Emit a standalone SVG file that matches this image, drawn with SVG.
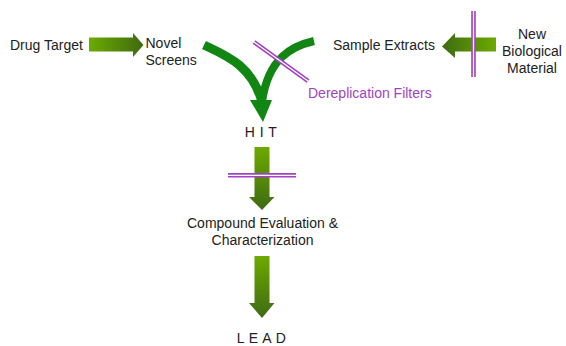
<svg xmlns="http://www.w3.org/2000/svg" width="566" height="346" viewBox="0 0 566 346">
<defs>
<linearGradient id="gR" x1="0" y1="0" x2="1" y2="0"><stop offset="0" stop-color="#6cab00"/><stop offset="1" stop-color="#3e6a12"/></linearGradient>
<linearGradient id="gL" x1="0" y1="0" x2="1" y2="0"><stop offset="0" stop-color="#3e6a12"/><stop offset="1" stop-color="#6cab00"/></linearGradient>
<linearGradient id="gD" x1="0" y1="0" x2="0" y2="1"><stop offset="0" stop-color="#6cab00"/><stop offset="1" stop-color="#3e6a12"/></linearGradient>
<style>
text{font-family:"Liberation Sans",Arial,Helvetica,sans-serif;font-size:14px;fill:#222}
.mid{text-anchor:middle}
.sp{letter-spacing:0.5px}
.pur{fill:#a143c2}
.arm{fill:none;stroke:#128612;stroke-linecap:butt}
.fo{stroke:#a143c2;stroke-width:4.6;fill:none}
.fi{stroke:#ffffff;stroke-width:1.3;fill:none}
</style>
</defs>
<rect width="566" height="346" fill="#ffffff"/>

<g id="connectors">
  <path id="drug-to-novel" d="M89,37.5 H133 V33 L143.5,45 L133,57 V51.5 H89 Z" fill="url(#gR)"/>
  <path id="newbio-to-sample" d="M496,37.5 H455 V33 L442,46.5 L455,58 V51.5 H496 Z" fill="url(#gL)"/>
  <g id="to-hit">
    <path class="arm" d="M204,45 C225,55 252,65 262,102" stroke-width="9"/>
    <path class="arm" d="M314,41 C292,46 268,58 262,102" stroke-width="8"/>
    <polygon points="250,100 272,100 263,122" fill="#128612"/>
  </g>
  <path id="hit-to-compound" d="M254.5,147 H269.5 V197 H274.5 L262,210 L249,197 H254.5 Z" fill="url(#gD)"/>
  <path id="compound-to-lead" d="M254.5,256 H269.5 V303 H274.5 L262,318 L249,303 H254.5 Z" fill="url(#gD)"/>
</g>

<g id="filters">
  <g id="filter-derep"><line class="fo" x1="254" y1="42" x2="308" y2="81"/><line class="fi" x1="254" y1="42" x2="308" y2="81"/></g>
  <g id="filter-newbio"><line class="fo" x1="473.5" y1="11" x2="473.5" y2="77"/><line class="fi" x1="473.5" y1="11" x2="473.5" y2="77"/></g>
  <g id="filter-hit"><line class="fo" x1="228" y1="175.3" x2="296" y2="175.3"/><line class="fi" x1="228" y1="175.3" x2="296" y2="175.3"/></g>
</g>

<g id="drug-target"><text x="10" y="49.5">Drug Target</text></g>
<g id="novel-screens"><text x="145.5" y="48">Novel</text><text x="145.5" y="65">Screens</text></g>
<g id="sample-extracts"><text x="333" y="50">Sample Extracts</text></g>
<g id="new-biological-material"><text class="mid" x="532" y="39">New</text><text class="mid" x="532" y="56">Biological</text><text class="mid" x="532" y="73">Material</text></g>
<g id="dereplication-filters"><text class="pur" x="308" y="97.5">Dereplication Filters</text></g>
<g id="hit"><text class="mid sp" x="261" y="136.5">H I T</text></g>
<g id="compound-evaluation"><text class="mid" x="262.5" y="228">Compound Evaluation &amp;</text><text class="mid" x="262.5" y="244.5">Characterization</text></g>
<g id="lead"><text class="mid sp" x="261.5" y="343">L E A D</text></g>
</svg>
